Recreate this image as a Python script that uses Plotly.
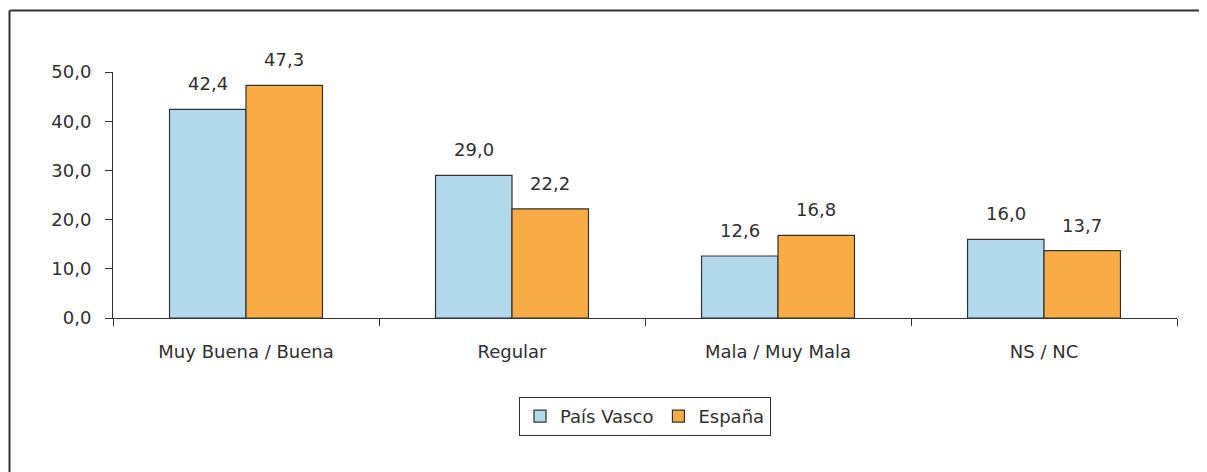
import plotly.graph_objects as go

categories = ["Muy Buena / Buena", "Regular", "Mala / Muy Mala", "NS / NC"]
pais_vasco = [42.4, 29.0, 12.6, 16.0]
espana = [47.3, 22.2, 16.8, 13.7]
series_names = ["País Vasco", "España"]
colors = ["#B1D9EB", "#F9AC45"]
y_ticks = [0, 10, 20, 30, 40, 50]

# page offset (default body margin of the html page)
OFF = 8
W, H = 1207, 472
L, R, T, B = 113 - OFF, 30 + OFF, 72 - OFF, 154 + OFF
pw, ph = W - L - R, H - T - B

FONT = "DejaVu Sans"
TXT = "#303030"
FS = 18

def fmt(v):
    return f"{v:.1f}".replace(".", ",")

fig = go.Figure()
for name, vals, col in zip(series_names, [pais_vasco, espana], colors):
    fig.add_trace(go.Bar(
        x=categories, y=vals, name=name,
        marker=dict(color=col, line=dict(color="#333333", width=1.2)),
        hoverinfo="skip",
    ))

bargap = 0.425
cat_px = pw / len(categories)
bar_px = cat_px * (1 - bargap) / 2
for i, vals in enumerate([pais_vasco, espana]):
    shift = (-0.5 if i == 0 else 0.5) * bar_px
    for c, v in zip(categories, vals):
        fig.add_annotation(x=c, y=v, text=fmt(v), showarrow=False,
                           xshift=shift, yshift=13, yanchor="bottom",
                           font=dict(family=FONT, size=FS, color=TXT))

# screen px -> paper coords
def px_x(p):
    return (p - OFF - L) / pw

def px_y(p):
    return (H - B - (p - OFF)) / ph

fig.add_shape(type="line", xref="paper", yref="paper",
              x0=px_x(9.5), x1=px_x(W + 20), y0=px_y(10.5), y1=px_y(10.5),
              line=dict(color="#333333", width=2))
fig.add_shape(type="line", xref="paper", yref="paper",
              x0=px_x(9.5), x1=px_x(9.5), y0=px_y(10.5), y1=px_y(H + 20),
              line=dict(color="#333333", width=2))

fig.update_layout(
    width=W, height=H,
    margin=dict(l=L, r=R, t=T, b=B, pad=0),
    paper_bgcolor="white", plot_bgcolor="white",
    barmode="group", bargap=bargap, bargroupgap=0,
    separators=",.",
    font=dict(family=FONT, size=FS, color=TXT),
    showlegend=True,
    legend=dict(orientation="h", x=0.5, xanchor="center",
                y=px_y(397), yanchor="top",
                bordercolor="#333333", borderwidth=1, bgcolor="white",
                font=dict(family=FONT, size=FS, color=TXT),
                itemwidth=30, tracegroupgap=0,
                traceorder="normal"),
)
fig.update_xaxes(type="category", tickson="boundaries", ticks="outside",
                 ticklen=7, tickcolor="#333333", showline=True,
                 linecolor="#333333", linewidth=1, showgrid=False,
                 ticklabelstandoff=17,
                 tickfont=dict(family=FONT, size=FS, color=TXT))
fig.update_yaxes(range=[0, 50], tickvals=y_ticks,
                 ticktext=[fmt(v) for v in y_ticks], ticks="outside",
                 ticklen=7, tickcolor="#333333", showline=True,
                 linecolor="#333333", linewidth=1, showgrid=False,
                 zeroline=False, ticklabelstandoff=10,
                 tickfont=dict(family=FONT, size=FS, color=TXT))

fig.write_html("out.html")
